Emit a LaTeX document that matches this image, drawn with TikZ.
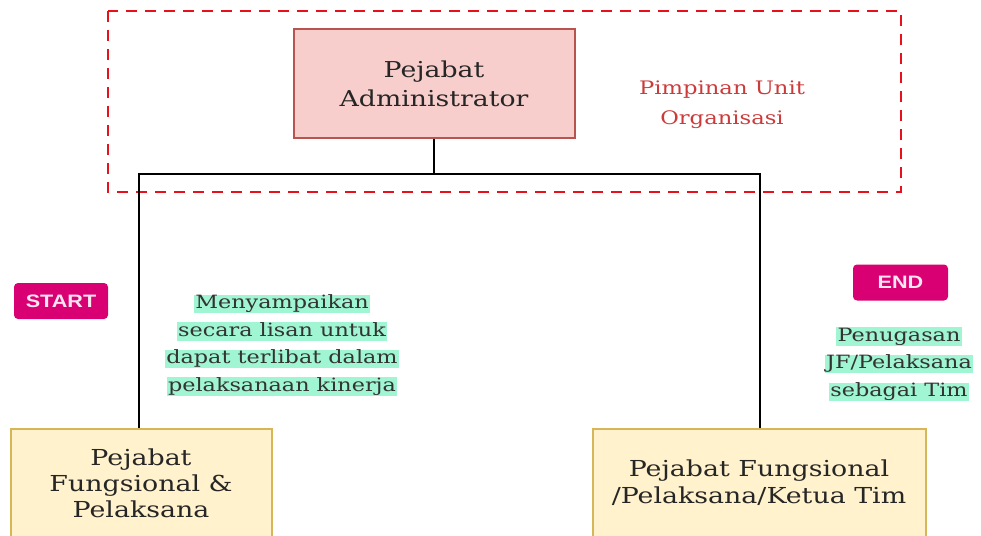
\documentclass[tikz,border=0pt]{standalone}
\usepackage{fontspec}
\setmainfont{DejaVu Serif}[FakeStretch=1.22]
\setsansfont{Liberation Sans}[FakeStretch=1.2]
\definecolor{adminfill}{HTML}{F8CECC}
\definecolor{adminline}{HTML}{B85450}
\definecolor{staffill}{HTML}{FFF2CC}
\definecolor{staffline}{HTML}{D6B656}
\definecolor{termfill}{HTML}{D80073}
\definecolor{notefill}{HTML}{A0F5D2}
\definecolor{unitred}{HTML}{CC3B3B}
\definecolor{dashred}{HTML}{E8101A}
\tikzset{
  orgbox/.style={draw, line width=2pt, inner sep=0pt},
  term/.style={draw=none, fill=termfill, rounded corners=4pt, text=white!90!termfill,
    font=\sffamily\bfseries\fontsize{18}{18}\selectfont, minimum height=36pt, inner sep=0pt},
  noteline/.style={fill=notefill, inner xsep=1.5pt, inner ysep=0pt,
    text height=14pt, text depth=4.5pt,
    font=\fontsize{18.3}{20}\selectfont, text=black!80, anchor=center},
  link/.style={line width=2.2pt, black},
}
\begin{document}
\begin{tikzpicture}[x=1pt, y=-1pt]
\useasboundingbox (0,0) rectangle (981,535);
\clip (0,0) rectangle (981,535);
\fill[white] (0,0) rectangle (981,535);

% unit leadership frame
\draw[dashred, line width=2.2pt, dash pattern=on 11pt off 8pt] (108,11) rectangle (901,192);
\node[text=unitred, align=center, font=\fontsize{18.6}{30}\selectfont] (unit) at (722,105)
  {Pimpinan Unit\\Organisasi};

% boxes
\node[orgbox, draw=adminline, fill=adminfill, minimum width=281pt, minimum height=109pt,
  align=center, font=\fontsize{21.9}{29}\selectfont, text=black!85] (admin) at (434,83.5)
  {Pejabat\\Administrator};
\node[orgbox, draw=staffline, fill=staffill, minimum width=261pt, minimum height=150pt,
  anchor=north west] (jf) at (10,428) {};
\node[align=center, font=\fontsize{22}{26}\selectfont, text=black!85] (jftext) at (141,483)
  {Pejabat\\Fungsional \&\\Pelaksana};
\node[orgbox, draw=staffline, fill=staffill, minimum width=333pt, minimum height=150pt,
  anchor=north west] (tim) at (592,428) {};
\node[align=center, font=\fontsize{22}{27}\selectfont, text=black!85] (timtext) at (759,482.5)
  {Pejabat Fungsional\\/Pelaksana/Ketua Tim};

% connectors
\coordinate (bus) at (434,174);
\draw[link] (admin.south) -- (bus);
\draw[link] (bus) -- (139,174) -- (jf.north west -| 139,0);
\draw[link] (bus) -- (760,174) -- (tim.north west -| 760,0);

% start / end markers
\node[term, minimum width=94pt] (start) at (61,301) {START};
\node[term, minimum width=95pt] (end) at (900.5,282.5) {END};

% notes
\node[noteline] (n1) at (282,304) {Menyampaikan};
\node[noteline] (n2) at (282,331.5) {secara lisan untuk};
\node[noteline] (n3) at (282,359) {dapat terlibat dalam};
\node[noteline] (n4) at (282,386.5) {pelaksanaan kinerja};
\node[noteline] (m1) at (899,336.5) {Penugasan};
\node[noteline] (m2) at (899,364) {JF/Pelaksana};
\node[noteline] (m3) at (899,392) {sebagai Tim};
\end{tikzpicture}
\end{document}
